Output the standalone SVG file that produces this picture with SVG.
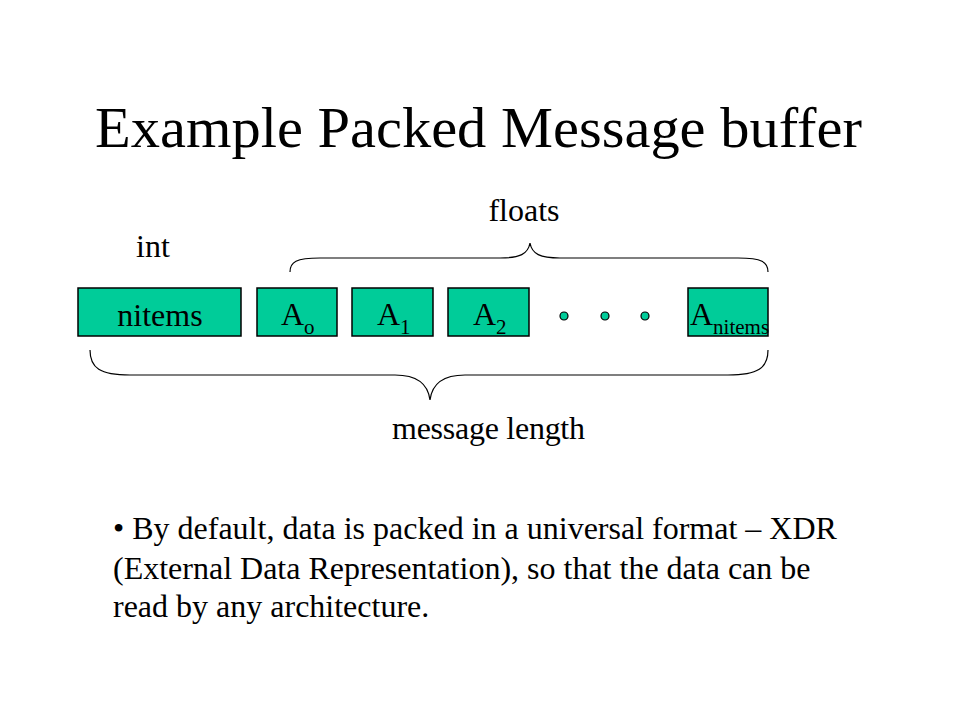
<svg xmlns="http://www.w3.org/2000/svg" width="960" height="720" viewBox="0 0 960 720">
<style>
text{font-family:"Liberation Serif","Times New Roman",serif;fill:#000}
.box{fill:#00CC99;stroke:#000;stroke-width:1.5}
.dot{fill:#00CC99;stroke:#000;stroke-width:1.2}
.brace{fill:none;stroke:#000;stroke-width:1.2}
.lbl{font-size:32px}
.sub{font-size:21px}
</style>
<rect width="960" height="720" fill="#fff"/>
<text x="95" y="147" font-size="58" textLength="767" lengthAdjust="spacingAndGlyphs">Example Packed Message buffer</text>
<text x="524" y="221" font-size="32" text-anchor="middle">floats</text>
<text x="136" y="257" font-size="32">int</text>
<text x="392" y="439" font-size="32" textLength="193" lengthAdjust="spacing">message  length</text>
<g id="connectors">
<path class="brace" d="M290,272 C290,262 296,258 320,258 L500,258 C520,258 528,254 530,243 C532,254 540,258 560,258 L738,258 C762,258 768,262 768,272"/>
<path class="brace" d="M90,350 C90,368 100,375 130,375 L395,375 C418,375 428,384 430,400 C432,384 442,375 465,375 L728,375 C758,375 768,368 768,350"/>
</g>
<g id="nitems"><rect class="box" x="78" y="288" width="163" height="48"/><text class="lbl" x="160" y="326" text-anchor="middle">nitems</text></g>
<g id="A0"><rect class="box" x="257" y="288" width="80" height="48"/><text class="lbl" x="281" y="325">A<tspan class="sub" dy="9">o</tspan></text></g>
<g id="A1"><rect class="box" x="352" y="288" width="81" height="48"/><text class="lbl" x="377" y="325">A<tspan class="sub" dy="9">1</tspan></text></g>
<g id="A2"><rect class="box" x="448" y="288" width="81" height="48"/><text class="lbl" x="473" y="325">A<tspan class="sub" dy="9">2</tspan></text></g>
<g id="dots"><circle class="dot" cx="564" cy="316" r="4"/><circle class="dot" cx="605" cy="316" r="4"/><circle class="dot" cx="645" cy="316" r="4"/></g>
<g id="Anitems"><rect class="box" x="688" y="288" width="80" height="48"/><text class="lbl" x="690" y="325">A<tspan class="sub" dy="9">nitems</tspan></text></g>
<g id="note" font-size="32">
<text x="113" y="539">• By default, data is packed in a universal  format – XDR</text>
<text x="113" y="579">(External Data Representation), so that the data can be</text>
<text x="113" y="617">read by any architecture.</text>
</g>
</svg>
